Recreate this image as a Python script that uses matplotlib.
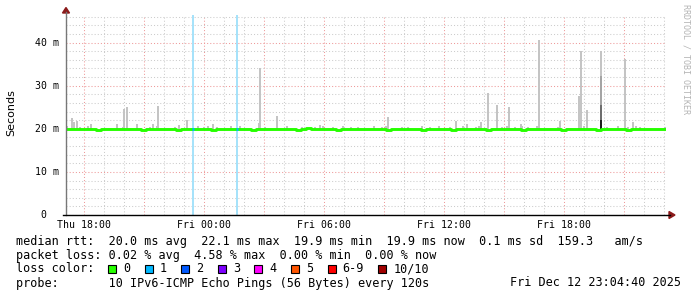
import matplotlib
matplotlib.use("Agg")
import matplotlib.pyplot as plt
from matplotlib.lines import Line2D
from matplotlib.patches import Rectangle, Polygon
import numpy as np

# ---------------- data (hours since Thu 00:00, values in ms) ----------------
start_hour = 17.0778          # Thu 17:04:40
end_hour = 47.0778            # Fri 23:04:40
median_step = 0.25            # hours per median sample

median_ms = [
    20.0, 19.9, 20.0, 20.0, 19.9, 20.0, 19.8, 20.0, 20.0, 20.0, 19.9, 20.0,
    20.0, 19.9, 20.0, 19.8, 20.0, 20.0, 20.0, 19.9, 20.0, 20.0, 19.8, 20.0,
    20.0, 20.0, 19.9, 20.0, 20.0, 19.8, 20.0, 19.9, 20.0, 20.0, 20.0, 19.9,
    20.0, 19.8, 20.0, 20.0, 19.9, 20.0, 20.0, 20.0, 19.9, 20.0, 19.8, 20.0,
    20.1, 20.0, 20.0, 19.9, 20.0, 20.0, 19.8, 20.0, 20.0, 19.9, 20.0, 20.0,
    20.0, 20.0, 19.9, 20.0, 19.8, 20.0, 20.0, 20.0, 19.9, 20.0, 20.0, 19.8,
    20.0, 19.9, 20.0, 20.0, 20.0, 19.8, 20.0, 20.0, 19.9, 20.0, 20.0, 20.0,
    19.8, 20.0, 20.0, 19.9, 20.0, 20.0, 20.0, 19.8, 20.0, 19.9, 20.0, 20.0,
    20.0, 19.9, 20.0, 19.8, 20.0, 20.0, 19.9, 20.0, 20.0, 20.0, 19.8, 20.0,
    20.0, 20.0, 19.9, 20.0, 19.8, 20.0, 20.0, 19.9, 20.0, 20.0, 20.0, 19.9,
]

spike_hours = [17.38, 17.48, 17.61, 18.31, 19.63, 19.98, 20.11, 20.61, 21.41,
               21.69, 22.73, 23.11, 24.43, 25.31, 26.71, 26.78, 27.64, 29.78,
               33.19, 36.59, 37.11, 37.84, 38.19, 38.64, 39.24, 39.84, 40.73,
               41.79, 42.71, 42.84, 43.11, 45.03, 45.44]
spike_tops = [22.6, 21.5, 21.9, 21.1, 21.0, 24.7, 25.1, 21.0, 21.2,
              25.3, 20.9, 22.1, 21.1, 20.7, 21.4, 34.1, 23.0, 20.8,
              22.8, 21.9, 21.1, 21.5, 28.4, 25.6, 25.1, 21.0, 40.5,
              21.9, 27.5, 38.0, 24.4, 36.3, 21.5]

bump_hours = [17.13, 17.78, 18.18, 19.93, 20.63, 21.28, 21.63, 22.53, 23.68,
              23.98, 24.18, 24.63, 25.78, 27.03, 28.13, 28.88, 29.53, 29.93,
              30.43, 30.93, 31.33, 31.68, 32.48, 32.88, 33.08, 33.88, 34.18,
              34.88, 35.28, 35.73, 36.28, 36.93, 37.58, 37.73, 38.88, 39.13,
              39.53, 39.88, 40.18, 40.63, 41.68, 42.98, 44.13, 44.68, 45.18,
              45.58, 45.78, 47.03]
bump_tops = [20.6, 20.5, 20.7, 20.5, 20.6, 20.5, 20.7, 20.5, 20.6,
             20.5, 20.6, 20.5, 20.7, 20.5, 20.6, 20.5, 20.5, 20.6,
             20.5, 20.6, 20.5, 20.5, 20.6, 20.5, 20.7, 20.5, 20.5,
             20.6, 20.5, 20.6, 20.5, 20.6, 20.5, 20.7, 20.5, 20.6,
             20.5, 20.6, 20.5, 20.7, 20.5, 20.6, 20.5, 20.6, 20.5,
             20.6, 20.5, 20.5]

# stacked smoke at the one dense sample (hour, layer tops)
dense_hour = 43.83
dense_tops = [38.0, 32.2, 25.6, 22.1]
dense_colors = ["#c4c4c4", "#a4a4a4", "#6e6e6e", "#1e1e1e"]

loss_hours = [23.41, 25.63]

xtick_hours = [18, 24, 30, 36, 42]
xtick_labels = ["Thu 18:00", "Fri 00:00", "Fri 06:00", "Fri 12:00", "Fri 18:00"]
ytick_values = [0, 10, 20, 30, 40]
ytick_labels = ["0  ", "10 m", "20 m", "30 m", "40 m"]

loss_names = ["0", "1", "2", "3", "4", "5", "6-9", "10/10"]
loss_colors = ["#26ff00", "#00b8ff", "#0059ff", "#7e00ff", "#ff00ff",
               "#ff5500", "#ff0000", "#a10000"]

legend_lines = [
    "median rtt:  20.0 ms avg  22.1 ms max  19.9 ms min  19.9 ms now  0.1 ms sd  159.3   am/s",
    "packet loss: 0.02 % avg  4.58 % max  0.00 % min  0.00 % now",
    "loss color:",
    "probe:       10 IPv6-ICMP Echo Pings (56 Bytes) every 120s",
]
stamp = "Fri Dec 12 23:04:40 2025"

# ---------------- figure ----------------
W, H = 697, 297
fig = plt.figure(figsize=(W / 100, H / 100), dpi=100)
fig.patch.set_facecolor("white")

def fx(px):
    return px / W

def fy(py):
    return 1 - py / H

ax = fig.add_axes([fx(66), fy(215), 600 / W, 200 / H])
ax.set_xlim(start_hour, end_hour)
ax.set_ylim(0, 46.4)
for s in ax.spines.values():
    s.set_visible(False)

mono = "DejaVu Sans Mono"
grid_minor = "#cccccc"
grid_major = "#ee9a9a"
dots = (0, (1, 2))

# grid
ax.set_xticks(np.arange(18, 48, 3), minor=False)
ax.set_xticks(np.arange(18, 48, 1), minor=True)
ax.set_yticks(np.arange(0, 47, 10))
ax.set_yticks(np.arange(0, 47, 2), minor=True)
ax.grid(which="minor", color=grid_minor, linestyle=dots, linewidth=0.75)
ax.grid(which="major", color=grid_major, linestyle=dots, linewidth=0.75)
ax.set_axisbelow(True)
ax.tick_params(which="both", length=0, labelbottom=False, labelleft=False)

# loss bars
for h in loss_hours:
    ax.bar(h, 46.4, width=0.1, bottom=0, color="#a6e2fa", linewidth=0, zorder=2)

# smoke
ax.bar(bump_hours, np.array(bump_tops) - 20.0, bottom=20.0, width=0.09,
       color="#c4c4c4", linewidth=0, zorder=3)
ax.bar(spike_hours, np.array(spike_tops) - 20.0, bottom=20.0, width=0.09,
       color="#c4c4c4", linewidth=0, zorder=3)
for top, c in zip(dense_tops, dense_colors):
    ax.bar(dense_hour, top - 19.8, bottom=19.8, width=0.1, color=c,
           linewidth=0, zorder=4)

# median line
t = start_hour + median_step * np.arange(len(median_ms) + 1)
ax.plot(t, list(median_ms) + [median_ms[-1]], drawstyle="steps-post",
        color="#26ff00", linewidth=2.1, zorder=5, solid_capstyle="butt")
for h in loss_hours:
    ax.plot([h - 0.05, h + 0.05], [20.0, 20.0], color="#00b8ff",
            linewidth=2.1, zorder=6, solid_capstyle="butt")

# tick labels
for h, lab in zip(xtick_hours, xtick_labels):
    ax.text(h, -1.1, lab, ha="center", va="top", family=mono, fontsize=7.1,
            color="#000000", clip_on=False)
for v, lab in zip(ytick_values, ytick_labels):
    ax.text(start_hour - 0.35, v, lab, ha="right", va="center", family=mono,
            fontsize=7.1, color="#000000", clip_on=False)

# axes lines + arrows
fig.add_artist(Line2D([fx(66), fx(66)], [fy(215), fy(12)], color="#777777",
                      linewidth=1.0))
fig.add_artist(Line2D([fx(63), fx(670)], [fy(215), fy(215)], color="#000000",
                      linewidth=1.0))
fig.add_artist(Polygon([[fx(62.5), fy(13)], [fx(69.5), fy(13)], [fx(66), fy(7.5)]],
                       closed=True, color="#8b1a1a", transform=fig.transFigure))
fig.add_artist(Polygon([[fx(669), fy(211.5)], [fx(669), fy(218.5)], [fx(675), fy(215)]],
                       closed=True, color="#8b1a1a", transform=fig.transFigure))

# y label and watermark
fig.text(fx(11), fy(113), "Seconds", rotation=90, ha="center", va="center",
         family="DejaVu Sans", fontsize=8, color="#000000")
fig.text(fx(686), fy(4), "RRDTOOL / TOBI OETIKER", rotation=270, ha="center",
         va="top", family=mono, fontsize=6, color="#b4b4b4")

# legend
rows_y = [241, 255, 269, 283]
for line, y in zip(legend_lines, rows_y):
    fig.text(fx(16), fy(y), line, ha="left", va="center", family=mono,
             fontsize=8.5, color="#000000")
fig.text(fx(681), fy(283), stamp, ha="right", va="center", family=mono,
         fontsize=8.5, color="#000000")

char_w = 7.11
x = 108.0
for name, col in zip(loss_names, loss_colors):
    fig.add_artist(Rectangle((fx(x), fy(273)), 8 / W, 8 / H, facecolor=col,
                             edgecolor="#000000", linewidth=0.8,
                             transform=fig.transFigure))
    fig.text(fx(x + 15), fy(269), name, ha="left", va="center", family=mono,
             fontsize=8.5, color="#000000")
    x += 15 + len(name) * char_w + 14.5

fig.savefig("out.png", dpi=100, facecolor="white")
